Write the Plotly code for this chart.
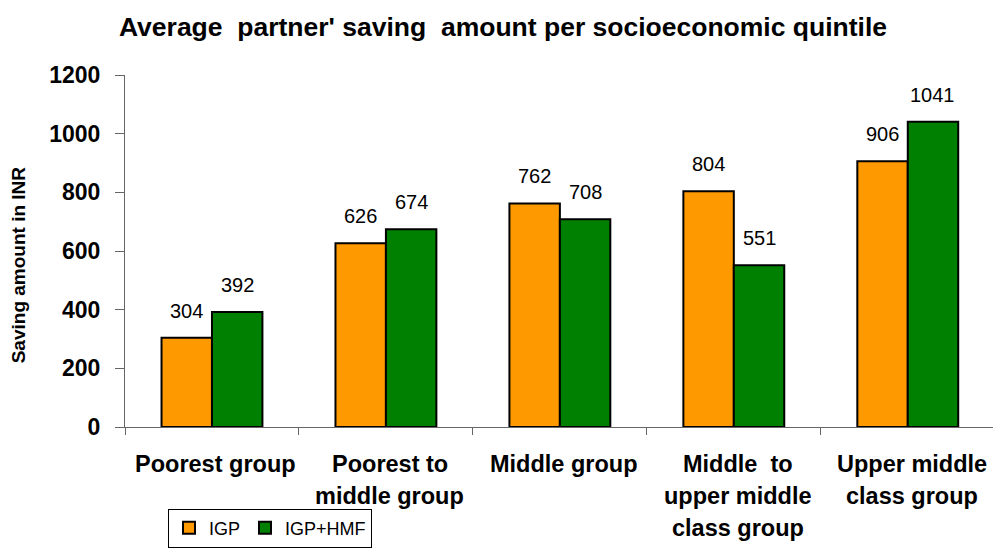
import plotly.graph_objects as go

# Socioeconomic quintiles and average partner saving (INR)
categories = [
    "Poorest group",
    "Poorest to<br>middle group",
    "Middle group",
    "Middle  to<br>upper middle<br>class group",
    "Upper middle<br>class group",
]
igp = [304, 626, 762, 804, 906]
igp_hmf = [392, 674, 708, 551, 1041]
y_ticks = [0, 200, 400, 600, 800, 1000, 1200]

FONT = "Liberation Sans, Arial, sans-serif"
ORANGE = "#FF9900"
GREEN = "#008000"

fig = go.Figure()
fig.add_trace(go.Bar(
    name="IGP", x=categories, y=igp,
    marker=dict(color=ORANGE, line=dict(color="black", width=2)),
))
fig.add_trace(go.Bar(
    name="IGP+HMF", x=categories, y=igp_hmf,
    marker=dict(color=GREEN, line=dict(color="black", width=2)),
))

annotations = []
# value labels above each bar
bar_half = (1 - 0.42) / 4
for i, (a, b) in enumerate(zip(igp, igp_hmf)):
    for xpos, val in ((i - bar_half, a), (i + bar_half, b)):
        annotations.append(dict(
            x=xpos, y=val, xref="x", yref="y", text=str(val),
            showarrow=False, yanchor="bottom", yshift=14,
            font=dict(family=FONT, size=20, color="black"),
        ))

# category labels, one annotation per line for wider line spacing
for i, cat in enumerate(categories):
    for j, line in enumerate(cat.split("<br>")):
        annotations.append(dict(
            x=i, y=0, xref="x", yref="y", text="<b>%s</b>" % line,
            showarrow=False, yanchor="middle", yshift=-37 - 32 * j, xshift=4,
            font=dict(family=FONT, size=23.5, color="black"),
        ))

# y-axis title
annotations.append(dict(
    x=-0.123, y=0.46, xref="paper", yref="paper",
    text="<b>Saving amount in INR</b>", textangle=-90, showarrow=False,
    xanchor="center", yanchor="middle",
    font=dict(family=FONT, size=19, color="black"),
))

fig.update_layout(
    width=993, height=548,
    margin=dict(l=125, r=0, t=75, b=119),
    paper_bgcolor="white", plot_bgcolor="white",
    barmode="group", bargap=0.42, bargroupgap=0,
    title=dict(
        text="<b>Average  partner' saving  amount per socioeconomic quintile</b>",
        x=503 / 993, xanchor="center", xref="container",
        y=1 - 27 / 548, yanchor="middle", yref="container",
        font=dict(family=FONT, size=26.5, color="black"),
    ),
    xaxis=dict(
        type="category", range=[-0.5, 4.49],
        showticklabels=False, showgrid=False,
        showline=True, linecolor="#666666", linewidth=1,
        ticks="outside", tickson="boundaries", ticklen=7,
        tickcolor="#666666",
    ),
    yaxis=dict(
        range=[0, 1200], tickvals=y_ticks,
        showgrid=False, zeroline=False,
        showline=True, linecolor="#666666", linewidth=1,
        ticks="outside", ticklen=9, tickcolor="#666666",
        ticklabelstandoff=10,
        tickfont=dict(family=FONT, size=23, color="black", weight="bold"),
    ),
    legend=dict(
        orientation="h", x=(168 - 125) / 868, y=(429 - 511) / 354,
        xanchor="left", yanchor="top",
        bordercolor="black", borderwidth=1,
        font=dict(family=FONT, size=18, color="black"),
        itemwidth=30, tracegroupgap=0,
    ),
    annotations=annotations,
    showlegend=True,
)

fig.write_html("out.html")
